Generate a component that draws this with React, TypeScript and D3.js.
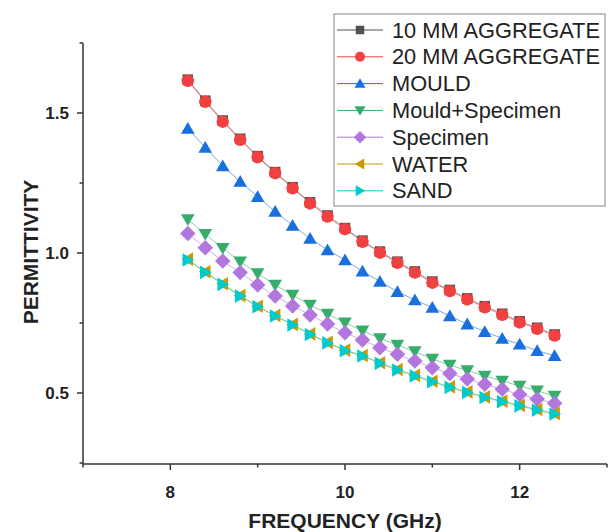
import React from "react";
import * as d3 from "d3";

const freq = [8.2, 8.4, 8.6, 8.8, 9.0, 9.2, 9.4, 9.6, 9.8, 10.0, 10.2, 10.4, 10.6, 10.8, 11.0, 11.2, 11.4, 11.6, 11.8, 12.0, 12.2, 12.4];

const agg10 = [1.619, 1.544, 1.473, 1.408, 1.346, 1.289, 1.235, 1.181, 1.134, 1.089, 1.044, 1.005, 0.969, 0.934, 0.898, 0.868, 0.838, 0.81, 0.783, 0.756, 0.733, 0.709];
const agg20 = [1.615, 1.54, 1.469, 1.404, 1.342, 1.285, 1.231, 1.177, 1.13, 1.085, 1.04, 1.001, 0.965, 0.93, 0.894, 0.864, 0.834, 0.806, 0.779, 0.752, 0.729, 0.705];
const mould = [1.445, 1.377, 1.311, 1.255, 1.201, 1.148, 1.098, 1.052, 1.011, 0.975, 0.935, 0.898, 0.862, 0.832, 0.805, 0.775, 0.746, 0.719, 0.695, 0.674, 0.651, 0.633];
const mouldSpec = [1.12, 1.067, 1.017, 0.969, 0.927, 0.886, 0.85, 0.814, 0.782, 0.751, 0.722, 0.695, 0.671, 0.648, 0.621, 0.6, 0.58, 0.561, 0.543, 0.525, 0.508, 0.489];
const specimen = [1.07, 1.019, 0.971, 0.93, 0.886, 0.846, 0.811, 0.779, 0.746, 0.715, 0.689, 0.662, 0.638, 0.614, 0.59, 0.57, 0.55, 0.531, 0.513, 0.495, 0.479, 0.463];
const water = [0.978, 0.933, 0.89, 0.848, 0.81, 0.777, 0.745, 0.711, 0.681, 0.653, 0.634, 0.608, 0.584, 0.563, 0.542, 0.522, 0.504, 0.486, 0.471, 0.456, 0.441, 0.427];
const sand = [0.975, 0.931, 0.888, 0.846, 0.808, 0.775, 0.743, 0.709, 0.679, 0.651, 0.632, 0.606, 0.582, 0.561, 0.54, 0.52, 0.502, 0.484, 0.469, 0.454, 0.439, 0.425];

const seriesNames = ["10 MM AGGREGATE", "20 MM AGGREGATE", "MOULD", "Mould+Specimen", "Specimen", "WATER", "SAND"];
const seriesValues = [agg10, agg20, mould, mouldSpec, specimen, water, sand];
const seriesColors = ["#515151", "#F14040", "#1A6FDF", "#37AD6B", "#B177DE", "#CC9900", "#00CBCC"];
const seriesShapes = ["square", "circle", "up", "down", "diamond", "left", "right"];

const xMajor = [8, 10, 12];
const xMinor = [7, 9, 11, 13];
const yMajor = [0.5, 1.0, 1.5];
const yMinor = [0.25, 0.75, 1.25, 1.75];

function markerPath(shape: string, s: number): string {
  switch (shape) {
    case "square":
      return `M${-s * 0.85},${-s * 0.85}H${s * 0.85}V${s * 0.85}H${-s * 0.85}Z`;
    case "circle":
      return d3.symbol(d3.symbolCircle, Math.PI * s * s)()!;
    case "up":
      return `M0,${-s * 1.05}L${s * 1.1},${s * 0.85}L${-s * 1.1},${s * 0.85}Z`;
    case "down":
      return `M0,${s * 1.05}L${s * 1.1},${-s * 0.85}L${-s * 1.1},${-s * 0.85}Z`;
    case "left":
      return `M${-s * 1.05},0L${s * 0.85},${-s * 1.1}L${s * 0.85},${s * 1.1}Z`;
    case "right":
      return `M${s * 1.05},0L${-s * 0.85},${-s * 1.1}L${-s * 0.85},${s * 1.1}Z`;
    case "diamond":
      return `M0,${-s * 1.25}L${s * 1.25},0L0,${s * 1.25}L${-s * 1.25},0Z`;
  }
  return "";
}

export default function App() {
  const W = 610, H = 532;
  const x = d3.scaleLinear().domain([7, 13]).range([83, 607]);
  const y = d3.scaleLinear().domain([0.25, 1.75]).range([463, 43]);
  const line = d3.line<[number, number]>().x((d) => x(d[0])).y((d) => y(d[1]));
  const axisColor = "#333";
  const font = "Liberation Sans, Arial, sans-serif";
  const ms = 6.2;

  const legendX = 334, legendY = 14, legendW = 271, legendH = 192;
  const rowH = 26.8;

  return (
    <svg width={W} height={H} style={{ position: "absolute", left: 0, top: 0, background: "#fff" }} fontFamily={font}>
      <rect x={0} y={0} width={W} height={H} fill="#fff" />
      {seriesValues.map((vals, i) => {
        const pts = freq.map((f, j) => [f, vals[j]] as [number, number]);
        return (
          <g key={i}>
            <path d={line(pts)!} fill="none" stroke={seriesColors[i]} strokeWidth={1} strokeOpacity={0.6} />
            {pts.map((p, j) => (
              <path key={j} d={markerPath(seriesShapes[i], ms)} transform={`translate(${x(p[0])},${y(p[1])})`} fill={seriesColors[i]} />
            ))}
          </g>
        );
      })}
      <line x1={x(7)} x2={x(13)} y1={y(0.25) + 1} y2={y(0.25) + 1} stroke={axisColor} strokeWidth={1.5} />
      <line x1={x(7)} x2={x(7)} y1={y(0.25) + 1.5} y2={y(1.75)} stroke={axisColor} strokeWidth={1.5} />
      {xMajor.map((v) => (
        <g key={"xm" + v}>
          <line x1={x(v)} x2={x(v)} y1={y(0.25) + 1} y2={y(0.25) + 7} stroke={axisColor} strokeWidth={1.5} />
          <text x={x(v)} y={498} textAnchor="middle" fontSize={17} fontWeight="bold" fill="#222">{v}</text>
        </g>
      ))}
      {xMinor.map((v) => (
        <line key={"xn" + v} x1={x(v)} x2={x(v)} y1={y(0.25) + 1} y2={y(0.25) + 4.5} stroke={axisColor} strokeWidth={1.5} />
      ))}
      {yMajor.map((v) => (
        <g key={"ym" + v}>
          <line x1={x(7) - 6} x2={x(7)} y1={y(v)} y2={y(v)} stroke={axisColor} strokeWidth={1.5} />
          <text x={69} y={y(v) + 6} textAnchor="end" fontSize={17} fontWeight="bold" fill="#222">{v.toFixed(1)}</text>
        </g>
      ))}
      {yMinor.map((v) => (
        <line key={"yn" + v} x1={x(7) - 3.5} x2={x(7)} y1={y(v)} y2={y(v)} stroke={axisColor} strokeWidth={1.5} />
      ))}
      <text x={345} y={528} textAnchor="middle" fontSize={21} fontWeight="bold" fill="#222">FREQUENCY (GHz)</text>
      <text transform={`translate(38,252) rotate(-90)`} textAnchor="middle" fontSize={21} fontWeight="bold" fill="#222">PERMITTIVITY</text>
      <rect x={legendX} y={legendY} width={legendW} height={legendH} fill="#fff" stroke="#999" strokeWidth={1.2} />
      {seriesNames.map((name, i) => {
        const cy = 30 + i * rowH;
        return (
          <g key={"lg" + i}>
            <line x1={337} x2={383} y1={cy} y2={cy} stroke={seriesColors[i]} strokeWidth={1} />
            <path d={markerPath(seriesShapes[i], 5)} transform={`translate(360,${cy})`} fill={seriesColors[i]} />
            <text x={392} y={cy + 7.5} fontSize={21.8} fill="#222">{name}</text>
          </g>
        );
      })}
    </svg>
  );
}
